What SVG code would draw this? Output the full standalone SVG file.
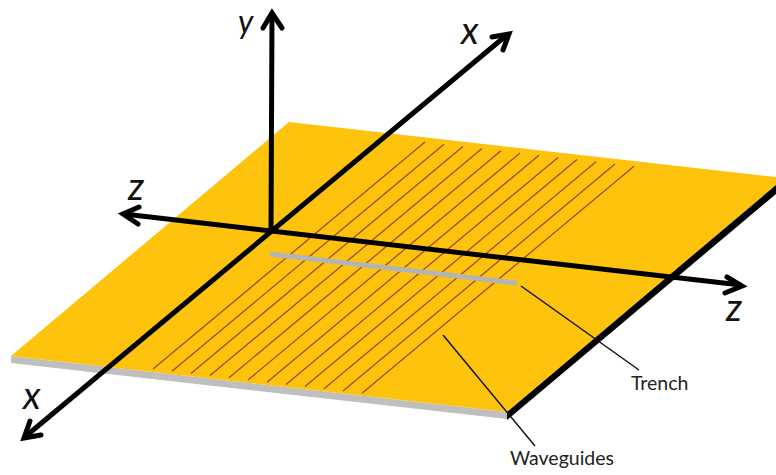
<svg xmlns="http://www.w3.org/2000/svg" width="776" height="475" viewBox="0 0 776 475">
<style>
.wg{stroke:#a8481a;stroke-width:1.3;fill:none}
.ax{stroke:#000;stroke-width:5;fill:none}
.hd{stroke:#000;stroke-width:5;fill:none;stroke-linecap:round;stroke-linejoin:miter}
.ld{stroke:#111;stroke-width:1.5;fill:none}
.al{font-family:Lato,"Open Sans",sans-serif;font-style:italic;font-size:38px;fill:#111}
.tl{font-family:Lato,"Open Sans",sans-serif;font-size:19.5px;fill:#222}
</style>
<rect width="776" height="475" fill="#fff"/>
<g id="plate">
<polygon points="11,356 507,412 507,419 11,363" fill="#bfbfbf"/>
<polygon points="289,122 776,177 776,185 507,412 11,356" fill="#fdc30d"/>
<polygon points="776,185 776,194 507,420 507,412" fill="#000"/>
</g>
<g id="waveguides">
<path class="wg" d="M425,142L153,369M444,144.200L172,371.200M463,146.400L191,373.400M482,148.600L210,375.600M501,150.800L229,377.800M520,153L248,380M539,155.200L267,382.200M558,157.400L286,384.400M577,159.600L305,386.600M596,161.800L324,388.800M615,164L343,391M634,166.200L362,393.200"/>
</g>
<g id="trench"><path d="M270,254L517,283" stroke="#b4b4b4" stroke-width="5" fill="none"/></g>
<g id="connectors">
<path class="ax" d="M271,232L272,14"/>
<path class="hd" d="M263,28L272,13L282,28"/>
<path class="ax" d="M26,436L508,34"/>
<path class="hd" d="M492,37L509,34L503,50"/>
<path class="hd" d="M41,435L24,438L30,421"/>
<path class="ax" d="M124,214L741,285"/>
<path class="hd" d="M139,207L123,214L138,224"/>
<path class="hd" d="M727,277L742,286L725,293"/>
<path class="ld" d="M521,286L639,370"/>
<path class="ld" d="M443,335L535,446"/>
</g>
<g id="label-y"><text class="al" x="238" y="33" style="font-size:32px">y</text></g>
<g id="label-x-top"><text class="al" x="461" y="44">x</text></g>
<g id="label-z-left"><text class="al" x="128" y="200">z</text></g>
<g id="label-z-right"><text class="al" x="726" y="321">z</text></g>
<g id="label-x-bottom"><text class="al" x="23" y="409">x</text></g>
<g id="label-trench"><text class="tl" x="631" y="390">Trench</text></g>
<g id="label-waveguides"><text class="tl" x="510" y="465">Waveguides</text></g>
</svg>
